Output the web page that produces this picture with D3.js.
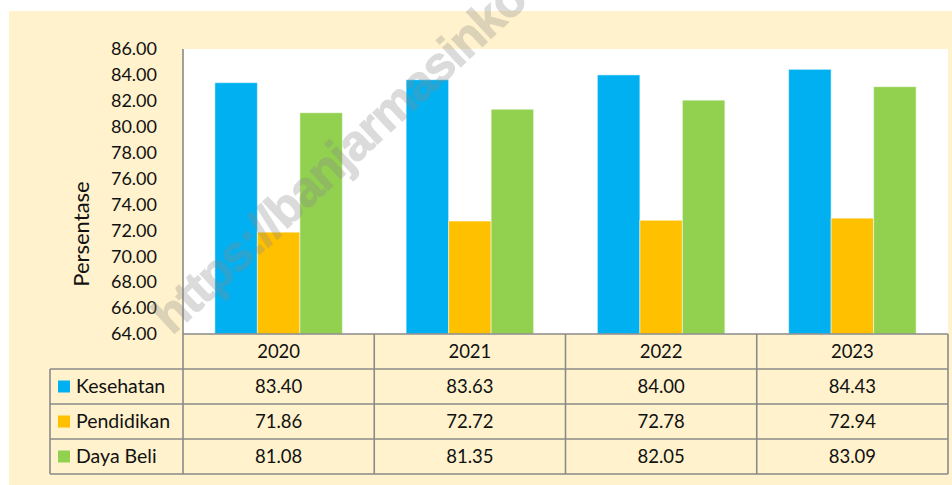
<!DOCTYPE html>
<html>
<head>
<meta charset="utf-8">
<script src="https://cdn.jsdelivr.net/npm/d3@7"></script>
<style>
  body { margin: 0; background: #fff; }
  svg text { font-family: Lato, "Open Sans", sans-serif; fill: #111; }
</style>
</head>
<body>
<div id="chart"></div>
<script>
// Data
const years = ['2020', '2021', '2022', '2023'];
const seriesNames = ['Kesehatan', 'Pendidikan', 'Daya Beli'];
const kesehatan = [83.40, 83.63, 84.00, 84.43];
const pendidikan = [71.86, 72.72, 72.78, 72.94];
const dayaBeli = [81.08, 81.35, 82.05, 83.09];
const yTicks = [64, 66, 68, 70, 72, 74, 76, 78, 80, 82, 84, 86];

const colors = ['#00B0F0', '#FFC000', '#92D050'];
const seriesValues = [kesehatan, pendidikan, dayaBeli];

const width = 952, height = 485;
const beige = '#FFF2CC';
const lineColor = '#8a8a8a';

const plot = { left: 183, right: 948, top: 49, bottom: 334 };
const rowH = 35;
const tableLeft = 50;

const svg = d3.select('#chart')
  .append('svg')
    .attr('width', width)
    .attr('height', height);

// Background panel
svg.append('rect')
  .attr('x', 9).attr('y', 11)
  .attr('width', width - 9).attr('height', height - 11)
  .attr('fill', beige);

svg.append('rect')
  .attr('x', plot.left).attr('y', plot.top)
  .attr('width', plot.right - plot.left).attr('height', plot.bottom - plot.top)
  .attr('fill', '#fff');

// Scales
const x0 = d3.scaleBand()
  .domain(years)
  .range([plot.left, plot.right])
  .paddingInner(0)
  .paddingOuter(0);

const x1 = d3.scaleBand()
  .domain(seriesNames)
  .range([0, x0.bandwidth()])
  .paddingInner(0)
  .paddingOuter(0.75);

const y = d3.scaleLinear()
  .domain([64, 86])
  .range([plot.bottom, plot.top]);

// Bars
const bars = [];
years.forEach((yr, i) => {
  seriesNames.forEach((s, j) => {
    bars.push({ year: yr, series: s, value: seriesValues[j][i], color: colors[j] });
  });
});

svg.append('g')
  .selectAll('rect')
  .data(bars)
  .join('rect')
    .attr('x', (d) => x0(d.year) + x1(d.series))
    .attr('y', (d) => y(d.value))
    .attr('width', x1.bandwidth())
    .attr('height', (d) => y(64) - y(d.value))
    .attr('fill', (d) => d.color)
    .attr('stroke', 'rgba(255,255,255,0.5)')
    .attr('stroke-width', 1);

// Y axis
const yAxis = svg.append('g')
  .attr('transform', `translate(${plot.left},0)`)
  .call(d3.axisLeft(y).tickValues(yTicks).tickSize(0).tickPadding(26).tickFormat(d3.format('.2f')));
yAxis.select('.domain').remove();
yAxis.selectAll('text')
  .attr('font-size', 18)
  .attr('fill', '#111');

svg.append('text')
  .attr('transform', 'translate(89,234) rotate(-90)')
  .attr('text-anchor', 'middle')
  .attr('font-size', 22)
  .text('Persentase');

// Data table
const tableTop = plot.bottom;
const table = svg.append('g');

// header years
table.selectAll('text.year')
  .data(years)
  .join('text')
    .attr('class', 'year')
    .attr('x', (d) => x0(d) + x0.bandwidth() / 2)
    .attr('y', tableTop + rowH / 2 + 6)
    .attr('text-anchor', 'middle')
    .attr('font-size', 18.5)
    .text((d) => d);

// rows
seriesNames.forEach((s, j) => {
  const ry = tableTop + rowH * (j + 1);
  table.append('rect')
    .attr('x', 58).attr('y', ry + rowH / 2 - 6)
    .attr('width', 12).attr('height', 12)
    .attr('fill', colors[j]);
  table.append('text')
    .attr('x', 76).attr('y', ry + rowH / 2 + 6.5)
    .attr('font-size', 19.5)
    .text(s);
  table.selectAll(null)
    .data(seriesValues[j])
    .join('text')
      .attr('x', (d, i) => x0(years[i]) + x0.bandwidth() / 2)
      .attr('y', ry + rowH / 2 + 6)
      .attr('text-anchor', 'middle')
      .attr('font-size', 18.5)
      .text((d) => d.toFixed(2));
});

// grid lines
const lines = table.append('g')
  .attr('stroke', lineColor)
  .attr('stroke-width', 1.6)
  .attr('fill', 'none');

const tableBottom = tableTop + rowH * 4;
// axis line (left) and bottom axis line
lines.append('line')
  .attr('x1', plot.left).attr('x2', plot.left)
  .attr('y1', plot.top).attr('y2', tableBottom);
lines.append('line')
  .attr('x1', plot.left).attr('x2', plot.right)
  .attr('y1', tableTop).attr('y2', tableTop);
// vertical year separators
years.slice(1).concat(['end']).forEach((yr) => {
  const xx = yr === 'end' ? plot.right : x0(yr);
  lines.append('line')
    .attr('x1', xx).attr('x2', xx)
    .attr('y1', tableTop).attr('y2', tableBottom);
});
// horizontal row lines
[1, 2, 3, 4].forEach((k) => {
  lines.append('line')
    .attr('x1', tableLeft).attr('x2', plot.right)
    .attr('y1', tableTop + rowH * k).attr('y2', tableTop + rowH * k);
});
lines.append('line')
  .attr('x1', tableLeft).attr('x2', tableLeft)
  .attr('y1', tableTop + rowH).attr('y2', tableBottom);

// watermark
svg.append('text')
  .attr('transform', 'translate(172,336) rotate(-43)')
  .style('font-size', '50px')
  .style('font-weight', 'bold')
  .style('letter-spacing', '-1.5px')
  .style('font-family', '"Liberation Sans", Arial, sans-serif')
  .style('fill', '#8a8a8a')
  .style('stroke', '#8a8a8a')
  .style('stroke-width', 1)
  .style('opacity', 0.3)
  .text('https://banjarmasinkota.bps.go.id');
</script>
</body>
</html>
